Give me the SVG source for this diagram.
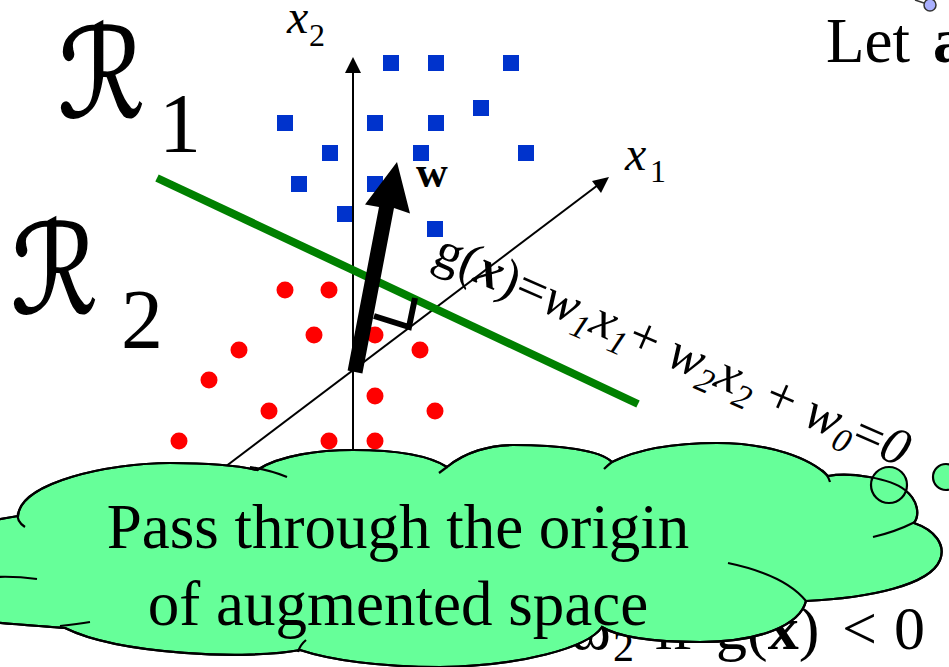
<svg xmlns="http://www.w3.org/2000/svg" xmlns:xlink="http://www.w3.org/1999/xlink" width="949" height="667" viewBox="0 0 949 667">
<style>
.t{font-family:"Liberation Serif","Times New Roman",serif;fill:#000}
.it{font-style:italic}
.b{font-weight:bold}
.sq{fill:#0033cc}
.dot{fill:#ff0000}
.ax{stroke:#000;stroke-width:2;fill:none}
.cf{fill:#66ff99;stroke:#000;stroke-width:2.2}
.cs{fill:none;stroke:#000;stroke-width:2.2}
.scr{font-family:"DejaVu Serif","DejaVu Sans",serif;fill:#000;stroke:#000;stroke-width:1.6}
</style>
<defs>
<path id="cloudpath" d="M 18,516 C 20,482 110,463 170,463 C 210,463 240,466 257,470 C 280,455 320,450 353,450 C 400,450 430,456 447,467 C 465,452 490,445 513,445 C 560,445 600,450 612,462 C 640,448 680,443 717,443 C 770,443 810,458 828,476 C 850,472 890,478 905,490 C 918,500 920,515 914,523 C 935,530 946,545 940,560 C 930,585 870,598 806,601 C 800,625 760,642 700,642 C 660,642 620,638 602,627 C 588,648 520,666 440,667 C 380,667 330,660 300,650 C 250,660 120,655 65,628 C 40,626 10,624 -10,622 L -10,521 Q 5,518 18,516 Z"/>
</defs>

<g id="r-labels">
<text class="scr" font-size="124" transform="translate(58,117) scale(0.88,1)">ℛ</text>
<text class="t" x="159" y="152" font-size="84">1</text>
<text class="scr" font-size="124" transform="translate(11,313) scale(0.88,1)">ℛ</text>
<text class="t" x="121" y="348" font-size="84">2</text>
</g>

<g id="let">
<line x1="915" y1="0" x2="924" y2="3" stroke="#333" stroke-width="1.5"/>
<circle cx="930" cy="5" r="6" fill="#aab0ff" stroke="#333" stroke-width="1.5"/>
<text class="t" x="826" y="62" font-size="63">Let <tspan class="b" x="933">a</tspan></text>
</g>

<g id="points-blue">
<rect class="sq" x="383" y="55" width="16" height="16"/>
<rect class="sq" x="428" y="55" width="16" height="16"/>
<rect class="sq" x="503" y="55" width="16" height="16"/>
<rect class="sq" x="473" y="100" width="16" height="16"/>
<rect class="sq" x="277" y="115" width="16" height="16"/>
<rect class="sq" x="367" y="115" width="16" height="16"/>
<rect class="sq" x="428" y="115" width="16" height="16"/>
<rect class="sq" x="322" y="145" width="16" height="16"/>
<rect class="sq" x="413" y="145" width="16" height="16"/>
<rect class="sq" x="518" y="145" width="16" height="16"/>
<rect class="sq" x="291" y="176" width="16" height="16"/>
<rect class="sq" x="367" y="176" width="16" height="16"/>
<rect class="sq" x="337" y="206" width="16" height="16"/>
<rect class="sq" x="427" y="221" width="16" height="16"/>
</g>

<g id="points-red">
<circle class="dot" cx="285" cy="290" r="8.5"/>
<circle class="dot" cx="329" cy="290" r="8.5"/>
<circle class="dot" cx="314" cy="335" r="8.5"/>
<circle class="dot" cx="375" cy="335" r="8.5"/>
<circle class="dot" cx="239" cy="350" r="8.5"/>
<circle class="dot" cx="420" cy="350" r="8.5"/>
<circle class="dot" cx="209" cy="380" r="8.5"/>
<circle class="dot" cx="375" cy="396" r="8.5"/>
<circle class="dot" cx="269" cy="411" r="8.5"/>
<circle class="dot" cx="435" cy="411" r="8.5"/>
<circle class="dot" cx="179" cy="441" r="8.5"/>
<circle class="dot" cx="329" cy="441" r="8.5"/>
<circle class="dot" cx="375" cy="441" r="8.5"/>
</g>

<g id="axes">
<line class="ax" x1="353" y1="70" x2="353" y2="480"/>
<polygon points="353,57 345,73 361,73" fill="#000"/>
<line class="ax" x1="180" y1="501" x2="598" y2="185"/>
<polygon points="609,177 592,181 601,193" fill="#000"/>
<text class="t it" x="287" y="33" font-size="48">x</text>
<text class="t" x="309" y="46" font-size="32">2</text>
<text class="t it" x="625" y="170" font-size="48">x</text>
<text class="t" x="650" y="182" font-size="32">1</text>
</g>

<g id="boundary">
<line x1="157" y1="178" x2="638" y2="404" stroke="#008000" stroke-width="8"/>
</g>

<g id="w-vector">
<polygon points="347.6,370.5 362.4,373.5 394,208 410,213.5 397,162 365,204.5 379,207" fill="#000"/>
<polyline points="374,316 409,327 415,298" fill="none" stroke="#000" stroke-width="6"/>
<text class="t b" x="416" y="187" font-size="44">w</text>
</g>

<g id="equation">
<text class="t" font-size="53" transform="translate(431,263) rotate(23.5)">g(<tspan class="b it">x</tspan>)=<tspan class="it">w</tspan><tspan class="it" font-size="34" dy="10">1</tspan><tspan class="it" dy="-10">x</tspan><tspan class="it" font-size="34" dy="10">1</tspan><tspan dy="-10">+ </tspan><tspan class="it">w</tspan><tspan class="it" font-size="34" dy="10">2</tspan><tspan class="it" dy="-10">x</tspan><tspan class="it" font-size="34" dy="10">2</tspan><tspan dy="-10"> + </tspan><tspan class="it">w</tspan><tspan class="it" font-size="34" dy="10">0</tspan><tspan dy="-10">=</tspan><tspan class="it">0</tspan></text>
</g>

<g id="decision-text">
<text class="t" y="649" font-size="62"><tspan x="570">ω</tspan><tspan x="613" dy="12" font-size="42">2</tspan><tspan x="655" dy="-12">if</tspan><tspan x="716">g(</tspan><tspan class="b">x</tspan><tspan>)</tspan><tspan x="842">&lt;</tspan><tspan x="894">0</tspan></text>
</g>

<g id="cloud">
<use xlink:href="#cloudpath" class="cf"/>
<circle cx="889" cy="485" r="18" fill="#66ff99" stroke="#000" stroke-width="2.2"/>
<circle cx="946" cy="477" r="13" fill="#66ff99" stroke="#000" stroke-width="2.2"/>
<use xlink:href="#cloudpath" class="cs"/>
<path class="cs" d="M 18,513 Q 16,521 25,527"/>
<path class="cs" d="M 250,467 Q 270,470 287,477"/>
<path class="cs" d="M -5,577 Q 15,576 37,579"/>
<path class="cs" d="M 60,626 Q 78,624 90,622"/>
<path class="cs" d="M 298,652 Q 300,645 306,640"/>
<path class="cs" d="M 447,467 Q 443,470 439,473"/>
<path class="cs" d="M 612,462 Q 608,465 604,469"/>
<path class="cs" d="M 822,470 Q 828,475 830,482"/>
<path class="cs" d="M 873,537 Q 895,532 915,522"/>
<path class="cs" d="M 728,563 Q 785,575 806,601"/>
<text class="t" x="398" y="548" font-size="63" text-anchor="middle">Pass through the origin</text>
<text class="t" x="398" y="625" font-size="63" text-anchor="middle">of augmented space</text>
</g>
</svg>
